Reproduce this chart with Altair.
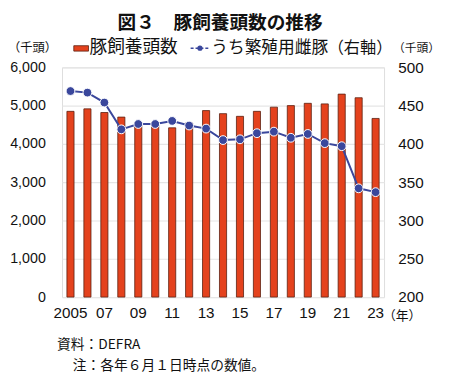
import altair as alt
import pandas as pd

years = list(range(2005, 2024))
pigs_total = [4850, 4915, 4820, 4700, 4560, 4565, 4420, 4545, 4870, 4790, 4720,
              4850, 4960, 5000, 5060, 5045, 5300, 5205, 4665]
breeding_sows = [469, 467, 454, 419, 426, 426, 430, 424, 420, 405, 406,
                 414, 416, 408, 413, 401, 397, 342, 337]

title_text = "図３　豚飼養頭数の推移"
legend_bar = "豚飼養頭数"
legend_line_a = "うち繁殖用雌豚"
legend_line_b = "（右軸）"
unit_left = "（千頭）"
unit_right = "（千頭）"
unit_x = "（年）"
note1 = "資料：DEFRA"
note2 = "注：各年６月１日時点の数値。"

df = pd.DataFrame({"year": [str(y) for y in years], "total": pigs_total, "sows": breeding_sows})

W, H = 328, 234
FONT_NUM = "Liberation Sans"
FONT_JP = "Noto Sans CJK JP"
RED = "#e4421d"
BLUE = "#3a479c"
NUM_SIZE = 15.5

x_enc = alt.X("year:O", title=None,
              scale=alt.Scale(paddingInner=0.58, paddingOuter=0.29),
              axis=alt.Axis(labelExpr="(toNumber(datum.value) % 2 == 1) ? (datum.value == '2005' ? '2005' : substring(datum.value, 2, 4)) : ''",
                            labelAngle=0, labelFont=FONT_NUM, labelFontSize=NUM_SIZE, labelColor="#111",
                            ticks=False, domain=False, labelPadding=9))

bars = alt.Chart(df).mark_bar(color=RED, stroke="#5a2010", strokeWidth=0.8).encode(
    x=x_enc,
    y=alt.Y("total:Q", title=None,
            scale=alt.Scale(domain=[0, 6000], nice=False),
            axis=alt.Axis(values=[0, 1000, 2000, 3000, 4000, 5000, 6000], format=",d",
                          labelFont=FONT_NUM, labelFontSize=14.5, labelColor="#111",
                          ticks=False, domain=False, labelPadding=17,
                          grid=True, gridColor="#e6e6e6", gridWidth=1.2)),
)

line = alt.Chart(df).mark_line(color=BLUE, strokeWidth=2,
                               point=alt.OverlayMarkDef(filled=True, color=BLUE, size=80,
                                                        stroke="white", strokeWidth=1)).encode(
    x=alt.X("year:O"),
    y=alt.Y("sows:Q", title=None,
            scale=alt.Scale(domain=[200, 500], nice=False),
            axis=alt.Axis(orient="right", values=[200, 250, 300, 350, 400, 450, 500],
                          labelFont=FONT_NUM, labelFontSize=NUM_SIZE, labelColor="#111",
                          ticks=False, domain=False, labelPadding=14, grid=False)),
)

one = pd.DataFrame({"a": [0]})
base = alt.Chart(one)

def txt(text, x, y, size=14, font=FONT_JP, weight="normal", align="left", baseline="middle"):
    return base.mark_text(text=text, font=font, fontSize=size, fontWeight=weight,
                          align=align, baseline=baseline, color="#111").encode(
        x=alt.value(x), y=alt.value(y))

# pixel offsets relative to plot origin (plot origin at page x=63, y=65)
ox, oy = 63, 65
texts = [
    txt(title_text, 224 - ox, 20 - oy, size=19, weight="bold", align="center"),
    txt(unit_left, 8 - ox, 45 - oy, size=12.5),
    txt(unit_right, 400 - ox, 45 - oy, size=12),
    txt(legend_bar, 91 - ox, 45 - oy, size=18),
    txt(legend_line_a, 215 - ox, 45 - oy, size=17),
    txt(legend_line_b, 366.5 - ox, 45 - oy, size=16.5, align="center"),
    txt(unit_x, 390 - ox, 318 - oy, size=13),
    txt(note1, 58 - ox, 348 - oy, size=14),
    txt(note2, 74 - ox, 369 - oy, size=14),
]

leg_rect = base.mark_rect(color=RED, stroke="#5a2010", strokeWidth=0.8).encode(
    x=alt.value(75 - ox), x2=alt.value(90 - ox), y=alt.value(43 - oy), y2=alt.value(48.5 - oy))
leg_rule = base.mark_rule(color=BLUE, strokeWidth=1.5, strokeDash=[3, 2]).encode(
    x=alt.value(194 - ox), x2=alt.value(213 - ox), y=alt.value(45.5 - oy))
leg_pt = base.mark_point(filled=True, color=BLUE, size=28, opacity=1).encode(
    x=alt.value(203.5 - ox), y=alt.value(45.5 - oy))

chart = alt.layer(bars, line, leg_rect, leg_rule, leg_pt, *texts).resolve_scale(
    y="independent"
).properties(
    width=W, height=H,
    autosize=alt.AutoSizeParams(type="none"),
    padding={"left": ox - 8, "top": oy - 8, "right": 442 - (ox - 8) - W, "bottom": 370 - (oy - 8) - H},
).configure_view(stroke=None).configure(background="white")

chart.save("out.html", embed_options={"renderer": "svg", "actions": False})
